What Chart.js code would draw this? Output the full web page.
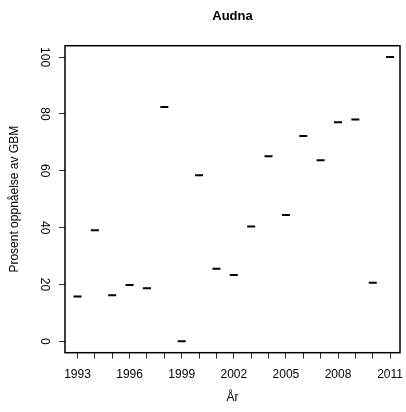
<!DOCTYPE html>
<html>
<head>
<meta charset="utf-8">
<script src="https://cdn.jsdelivr.net/npm/chart.js@4/dist/chart.umd.min.js"></script>
<style>
  body { margin: 0; background: #fff; }
  #wrap { width: 406px; height: 412px; }
</style>
</head>
<body>
<div id="wrap"><canvas id="chart"></canvas></div>
<script>
const years = [1993, 1994, 1995, 1996, 1997, 1998, 1999, 2000, 2001, 2002,
               2003, 2004, 2005, 2006, 2007, 2008, 2009, 2010, 2011];
const prosent = [15.8, 39.1, 16.2, 19.8, 18.7, 82.4, 0, 58.4, 25.5, 23.3,
                 40.4, 65.1, 44.4, 72.2, 63.7, 77.1, 78.0, 20.6, 100];
const xLabels = [1993, 1996, 1999, 2002, 2005, 2008, 2011];
const yTicks = [0, 20, 40, 60, 80, 100];
const tittel = "Audna";

Chart.defaults.font.family = "'Liberation Sans', Arial, sans-serif";
Chart.defaults.color = "#000";

// R-aktig ramme rundt plottet + tittel sentrert over plotteomraadet
const boxPlugin = {
  id: "box",
  afterDraw(chart) {
    const a = chart.chartArea;
    const ctx = chart.ctx;
    ctx.save();
    ctx.strokeStyle = "#000";
    ctx.lineWidth = 1.5;
    ctx.strokeRect(a.left, a.top, a.right - a.left, a.bottom - a.top);
    ctx.fillStyle = "#000";
    ctx.font = "bold 13px 'Liberation Sans', Arial, sans-serif";
    ctx.textAlign = "center";
    ctx.textBaseline = "middle";
    ctx.fillText(tittel, (a.left + a.right) / 2, 16);
    ctx.restore();
  }
};

new Chart(document.getElementById("chart"), {
  type: "scatter",
  data: {
    datasets: [{
      data: years.map((y, i) => ({ x: y, y: prosent[i] })),
      pointStyle: "line",
      pointRadius: 4,
      pointHoverRadius: 4,
      borderWidth: 2,
      borderColor: "#000",
      backgroundColor: "#000"
    }]
  },
  options: {
    responsive: true,
    maintainAspectRatio: false,
    animation: false,
    events: [],
    layout: { padding: { left: 0, right: 5, top: 45.7, bottom: 0 } },
    plugins: {
      legend: { display: false },
      tooltip: { enabled: false },
      title: { display: false }
    },
    scales: {
      x: {
        type: "linear",
        min: 1992.28,
        max: 2011.57,
        afterBuildTicks: s => { s.ticks = years.map(v => ({ value: v })); },
        afterFit: s => { s.height = 412 - 352.7; s.paddingLeft = 0; s.paddingRight = 0; },
        border: { display: false },
        grid: { drawOnChartArea: false, drawTicks: true, tickLength: 6, tickColor: "#333" },
        ticks: {
          autoSkip: false,
          maxRotation: 0,
          padding: 9,
          font: { size: 12 },
          callback: v => xLabels.includes(v) ? String(v) : ""
        },
        title: { display: true, text: "År", font: { size: 12 }, padding: { bottom: 7 } }
      },
      y: {
        min: -4,
        max: 104,
        afterBuildTicks: s => { s.ticks = yTicks.map(v => ({ value: v })); },
        afterFit: s => { s.width = 65; s.paddingTop = 0; s.paddingBottom = 0; },
        border: { display: false },
        grid: { drawOnChartArea: false, drawTicks: true, tickLength: 6, tickColor: "#333" },
        ticks: {
          minRotation: -90,
          maxRotation: -90,
          crossAlign: "center",
          padding: 5,
          font: { size: 12 }
        },
        title: { display: true, text: "Prosent oppnåelse av GBM", font: { size: 12 }, padding: { top: 7 } }
      }
    }
  },
  plugins: [boxPlugin]
});
</script>
</body>
</html>
